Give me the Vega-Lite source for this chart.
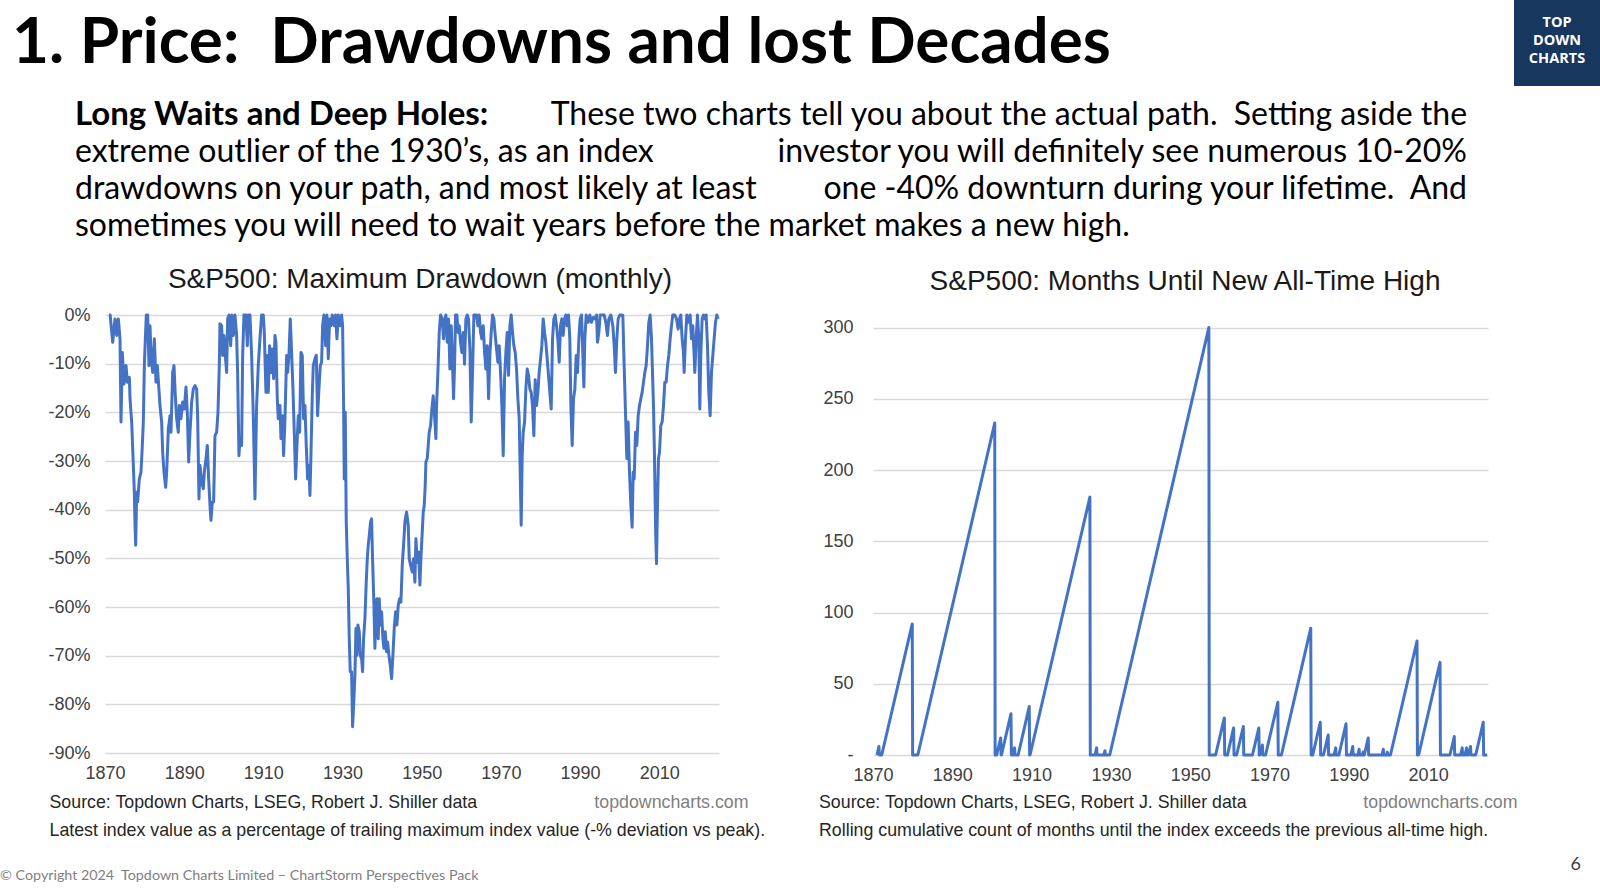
{
 "$schema": "https://vega.github.io/schema/vega-lite/v6.json",
 "padding": 0,
 "background": "white",
 "bounds": "full",
 "spacing": 16,
 "config": {
  "view": {"stroke": null},
  "axis": {"labelFont": "Liberation Sans", "labelFontSize": 18, "labelColor": "#404040", "titleFont": "Liberation Sans", "titleFontSize": 17.8, "titleFontWeight": "normal", "titleColor": "#262626", "domain": false, "ticks": false, "gridColor": "#D9D9D9", "gridWidth": 1.3},
  "title": {"font": "Liberation Sans", "fontSize": 28, "fontWeight": "normal", "color": "#1a1a1a", "anchor": "middle", "baseline": "alphabetic"}
 },
 "datasets": {
  "hdr": [
   {"part": "title", "side": "left", "line": "t", "txt": "1. Price:\u00a0 Drawdowns and lost Decades"},
   {"part": "bold", "side": "left", "ln": 1, "txt": "Long Waits and Deep Holes:"},
   {"part": "reg", "side": "right", "ln": 1, "txt": "These two charts tell you about the actual path.\u00a0 Setting aside the"},
   {"part": "reg", "side": "left", "ln": 2, "txt": "extreme outlier of the 1930’s, as an index"},
   {"part": "reg", "side": "right", "ln": 2, "txt": "investor you will definitely see numerous 10-20%"},
   {"part": "reg", "side": "left", "ln": 3, "txt": "drawdowns on your path, and most likely at least"},
   {"part": "reg", "side": "right", "ln": 3, "txt": "one -40% downturn during your lifetime.\u00a0 And"},
   {"part": "reg", "side": "left", "ln": 4, "txt": "sometimes you will need to wait years before the market makes a new high."}
  ],
  "ftr": [
   {"side": "left", "txt": "© Copyright 2024\u00a0 Topdown Charts Limited – ChartStorm Perspectives Pack"},
   {"side": "right", "txt": "6"}
  ],
  "dd": [
   {"yr":1871.0,"dd":0},{"yr":1871.3,"dd":0},{"yr":1871.94,"dd":-0.056},{"yr":1872.53,"dd":-0.008},{"yr":1872.95,"dd":-0.042},{"yr":1873.37,"dd":-0.008},{"yr":1873.79,"dd":-0.049},{"yr":1874.04,"dd":-0.22},{"yr":1874.38,"dd":-0.077},{"yr":1874.8,"dd":-0.142},{"yr":1875.31,"dd":-0.104},{"yr":1875.64,"dd":-0.138},{"yr":1876.15,"dd":-0.128},{"yr":1876.32,"dd":-0.172},{"yr":1876.74,"dd":-0.22},{"yr":1877.16,"dd":-0.309},{"yr":1877.41,"dd":-0.364},{"yr":1877.58,"dd":-0.432},{"yr":1877.75,"dd":-0.473},{"yr":1878.0,"dd":-0.364},{"yr":1878.25,"dd":-0.384},{"yr":1878.67,"dd":-0.337},{"yr":1879.09,"dd":-0.323},{"yr":1879.35,"dd":-0.282},{"yr":1879.68,"dd":-0.22},{"yr":1879.94,"dd":-0.104},{"yr":1880.19,"dd":-0.049},{"yr":1880.44,"dd":0},{"yr":1880.78,"dd":0},{"yr":1881.11,"dd":-0.104},{"yr":1881.37,"dd":-0.022},{"yr":1881.62,"dd":-0.083},{"yr":1882.04,"dd":-0.118},{"yr":1882.46,"dd":-0.049},{"yr":1882.88,"dd":-0.138},{"yr":1883.22,"dd":-0.104},{"yr":1883.56,"dd":-0.145},{"yr":1883.89,"dd":-0.186},{"yr":1884.31,"dd":-0.22},{"yr":1884.57,"dd":-0.282},{"yr":1884.9,"dd":-0.323},{"yr":1885.32,"dd":-0.354},{"yr":1885.58,"dd":-0.323},{"yr":1886.0,"dd":-0.234},{"yr":1886.42,"dd":-0.207},{"yr":1886.67,"dd":-0.241},{"yr":1887.09,"dd":-0.118},{"yr":1887.43,"dd":-0.104},{"yr":1887.76,"dd":-0.166},{"yr":1888.1,"dd":-0.213},{"yr":1888.52,"dd":-0.241},{"yr":1888.77,"dd":-0.186},{"yr":1889.19,"dd":-0.213},{"yr":1889.62,"dd":-0.179},{"yr":1890.04,"dd":-0.193},{"yr":1890.46,"dd":-0.148},{"yr":1890.79,"dd":-0.2},{"yr":1891.13,"dd":-0.302},{"yr":1891.47,"dd":-0.241},{"yr":1891.89,"dd":-0.179},{"yr":1892.31,"dd":-0.152},{"yr":1892.73,"dd":-0.145},{"yr":1893.15,"dd":-0.152},{"yr":1893.4,"dd":-0.207},{"yr":1893.74,"dd":-0.378},{"yr":1893.99,"dd":-0.309},{"yr":1894.41,"dd":-0.343},{"yr":1894.83,"dd":-0.357},{"yr":1895.09,"dd":-0.323},{"yr":1895.51,"dd":-0.295},{"yr":1895.84,"dd":-0.268},{"yr":1896.18,"dd":-0.337},{"yr":1896.52,"dd":-0.391},{"yr":1896.77,"dd":-0.422},{"yr":1897.11,"dd":-0.384},{"yr":1897.44,"dd":-0.384},{"yr":1897.78,"dd":-0.248},{"yr":1898.2,"dd":-0.241},{"yr":1898.54,"dd":-0.2},{"yr":1898.87,"dd":-0.104},{"yr":1899.04,"dd":-0.018},{"yr":1899.46,"dd":-0.022},{"yr":1899.72,"dd":-0.083},{"yr":1900.05,"dd":-0.042},{"yr":1900.39,"dd":-0.083},{"yr":1900.73,"dd":-0.118},{"yr":1900.98,"dd":-0.008},{"yr":1901.32,"dd":0},{"yr":1901.74,"dd":-0.063},{"yr":1902.07,"dd":0},{"yr":1902.41,"dd":-0.042},{"yr":1902.83,"dd":0},{"yr":1903.25,"dd":-0.042},{"yr":1903.5,"dd":-0.118},{"yr":1903.84,"dd":-0.289},{"yr":1904.09,"dd":-0.254},{"yr":1904.51,"dd":-0.268},{"yr":1904.77,"dd":-0.083},{"yr":1905.1,"dd":0},{"yr":1905.61,"dd":0},{"yr":1905.95,"dd":-0.063},{"yr":1906.2,"dd":0},{"yr":1906.62,"dd":0},{"yr":1907.04,"dd":-0.083},{"yr":1907.46,"dd":-0.207},{"yr":1907.88,"dd":-0.378},
   {"yr":1908.3,"dd":-0.186},{"yr":1908.72,"dd":-0.104},{"yr":1909.14,"dd":-0.049},{"yr":1909.56,"dd":0},{"yr":1909.98,"dd":0},{"yr":1910.24,"dd":-0.036},{"yr":1910.66,"dd":-0.159},{"yr":1910.99,"dd":-0.083},{"yr":1911.25,"dd":-0.159},{"yr":1911.58,"dd":-0.063},{"yr":1911.92,"dd":-0.118},{"yr":1912.26,"dd":-0.07},{"yr":1912.59,"dd":-0.131},{"yr":1912.93,"dd":-0.042},{"yr":1913.18,"dd":-0.056},{"yr":1913.52,"dd":-0.172},{"yr":1913.77,"dd":-0.213},{"yr":1914.19,"dd":-0.186},{"yr":1914.45,"dd":-0.254},{"yr":1914.78,"dd":-0.207},{"yr":1915.12,"dd":-0.289},{"yr":1915.46,"dd":-0.213},{"yr":1915.88,"dd":-0.083},{"yr":1916.13,"dd":-0.118},{"yr":1916.47,"dd":-0.083},{"yr":1916.8,"dd":-0.008},{"yr":1917.14,"dd":-0.077},{"yr":1917.48,"dd":-0.152},{"yr":1917.81,"dd":-0.241},{"yr":1918.15,"dd":-0.337},{"yr":1918.49,"dd":-0.268},{"yr":1918.82,"dd":-0.207},{"yr":1919.16,"dd":-0.241},{"yr":1919.5,"dd":-0.077},{"yr":1919.83,"dd":-0.083},{"yr":1920.17,"dd":-0.213},{"yr":1920.51,"dd":-0.186},{"yr":1920.84,"dd":-0.268},{"yr":1921.18,"dd":-0.337},{"yr":1921.52,"dd":-0.309},{"yr":1921.77,"dd":-0.371},{"yr":1922.02,"dd":-0.289},{"yr":1922.36,"dd":-0.166},{"yr":1922.61,"dd":-0.104},{"yr":1923.03,"dd":-0.09},{"yr":1923.37,"dd":-0.083},{"yr":1923.7,"dd":-0.207},{"yr":1924.04,"dd":-0.152},{"yr":1924.38,"dd":-0.104},{"yr":1924.72,"dd":-0.097},{"yr":1924.97,"dd":-0.022},{"yr":1925.3,"dd":0},{"yr":1925.73,"dd":-0.063},{"yr":1926.06,"dd":0},{"yr":1926.4,"dd":-0.09},{"yr":1926.74,"dd":-0.008},{"yr":1927.07,"dd":-0.022},{"yr":1927.41,"dd":0},{"yr":1927.91,"dd":-0.022},{"yr":1928.25,"dd":0},{"yr":1928.59,"dd":-0.049},{"yr":1928.92,"dd":0},{"yr":1929.43,"dd":-0.022},{"yr":1929.77,"dd":0},{"yr":1930.02,"dd":-0.022},{"yr":1930.27,"dd":-0.186},{"yr":1930.44,"dd":-0.337},{"yr":1930.69,"dd":-0.2},{"yr":1930.94,"dd":-0.425},{"yr":1931.2,"dd":-0.501},{"yr":1931.45,"dd":-0.562},{"yr":1931.7,"dd":-0.665},{"yr":1931.95,"dd":-0.733},{"yr":1932.29,"dd":-0.733},{"yr":1932.54,"dd":-0.846},{"yr":1932.8,"dd":-0.802},{"yr":1933.13,"dd":-0.74},{"yr":1933.39,"dd":-0.644},{"yr":1933.64,"dd":-0.699},{"yr":1933.89,"dd":-0.637},{"yr":1934.23,"dd":-0.651},{"yr":1934.48,"dd":-0.699},{"yr":1934.82,"dd":-0.706},{"yr":1935.07,"dd":-0.733},{"yr":1935.32,"dd":-0.665},{"yr":1935.66,"dd":-0.624},{"yr":1935.99,"dd":-0.549},{"yr":1936.25,"dd":-0.501},{"yr":1936.5,"dd":-0.473},{"yr":1936.84,"dd":-0.446},{"yr":1937.09,"dd":-0.425},{"yr":1937.34,"dd":-0.419},{"yr":1937.59,"dd":-0.501},{"yr":1937.93,"dd":-0.596},{"yr":1938.18,"dd":-0.685},{"yr":1938.44,"dd":-0.596},{"yr":1938.69,"dd":-0.583},{"yr":1939.02,"dd":-0.665},{"yr":1939.28,"dd":-0.583},{"yr":1939.53,"dd":-0.637},{"yr":1939.87,"dd":-0.61},{"yr":1940.2,"dd":-0.665},{"yr":1940.46,"dd":-0.685},{"yr":1940.79,"dd":-0.651},{"yr":1941.13,"dd":-0.692},{"yr":1941.38,"dd":-0.672},{"yr":1941.72,"dd":-0.699},{"yr":1942.06,"dd":-0.72},{"yr":1942.39,"dd":-0.747},{"yr":1942.73,"dd":-0.699},{"yr":1943.06,"dd":-0.644},{"yr":1943.4,"dd":-0.61},{"yr":1943.74,"dd":-0.637},{"yr":1944.08,"dd":-0.596},{"yr":1944.41,"dd":-0.583},{"yr":1944.75,"dd":-0.59},{"yr":1945.09,"dd":-0.514},{"yr":1945.42,"dd":-0.473},{"yr":1945.76,"dd":-0.425},{"yr":1946.18,"dd":-0.405},{"yr":1946.6,"dd":-0.432},{"yr":1946.85,"dd":-0.501},{"yr":1947.19,"dd":-0.514},{"yr":1947.61,"dd":-0.528},{"yr":1947.95,"dd":-0.501},
   {"yr":1948.28,"dd":-0.549},{"yr":1948.54,"dd":-0.46},{"yr":1948.87,"dd":-0.508},{"yr":1949.21,"dd":-0.487},{"yr":1949.55,"dd":-0.555},{"yr":1949.8,"dd":-0.501},{"yr":1950.05,"dd":-0.46},{"yr":1950.39,"dd":-0.405},{"yr":1950.64,"dd":-0.391},{"yr":1950.89,"dd":-0.35},{"yr":1951.06,"dd":-0.302},{"yr":1951.4,"dd":-0.295},{"yr":1951.65,"dd":-0.268},{"yr":1951.9,"dd":-0.241},{"yr":1952.24,"dd":-0.227},{"yr":1952.58,"dd":-0.193},{"yr":1952.91,"dd":-0.166},{"yr":1953.25,"dd":-0.207},{"yr":1953.59,"dd":-0.254},{"yr":1953.75,"dd":-0.186},{"yr":1954.09,"dd":-0.118},{"yr":1954.43,"dd":-0.036},{"yr":1954.76,"dd":0},{"yr":1955.18,"dd":-0.008},{"yr":1955.52,"dd":-0.049},{"yr":1955.86,"dd":-0.008},{"yr":1956.11,"dd":0},{"yr":1956.45,"dd":-0.056},{"yr":1956.78,"dd":-0.008},{"yr":1957.12,"dd":-0.111},{"yr":1957.46,"dd":-0.022},{"yr":1957.71,"dd":-0.083},{"yr":1958.05,"dd":-0.172},{"yr":1958.3,"dd":-0.104},{"yr":1958.55,"dd":0},{"yr":1958.89,"dd":0},{"yr":1959.23,"dd":-0.036},{"yr":1959.48,"dd":-0.022},{"yr":1959.81,"dd":-0.056},{"yr":1960.15,"dd":-0.077},{"yr":1960.49,"dd":-0.036},{"yr":1960.82,"dd":-0.101},{"yr":1961.16,"dd":-0.008},{"yr":1961.5,"dd":0},{"yr":1961.83,"dd":-0.008},{"yr":1962.17,"dd":-0.07},{"yr":1962.51,"dd":-0.22},{"yr":1962.84,"dd":-0.118},{"yr":1963.18,"dd":0},{"yr":1963.52,"dd":0},{"yr":1963.85,"dd":0},{"yr":1964.19,"dd":-0.022},{"yr":1964.53,"dd":0},{"yr":1964.87,"dd":-0.036},{"yr":1965.2,"dd":-0.049},{"yr":1965.54,"dd":-0.022},{"yr":1965.88,"dd":-0.077},{"yr":1966.21,"dd":-0.111},{"yr":1966.55,"dd":-0.063},{"yr":1966.89,"dd":-0.172},{"yr":1967.22,"dd":-0.083},{"yr":1967.56,"dd":-0.036},{"yr":1967.9,"dd":0},{"yr":1968.23,"dd":-0.008},{"yr":1968.57,"dd":-0.042},{"yr":1968.91,"dd":-0.07},{"yr":1969.24,"dd":-0.097},{"yr":1969.58,"dd":-0.063},{"yr":1969.92,"dd":-0.118},{"yr":1970.25,"dd":-0.186},{"yr":1970.59,"dd":-0.289},{"yr":1970.93,"dd":-0.131},{"yr":1971.26,"dd":-0.077},{"yr":1971.6,"dd":-0.036},{"yr":1971.94,"dd":-0.124},{"yr":1972.27,"dd":-0.022},{"yr":1972.61,"dd":0},{"yr":1972.95,"dd":-0.036},{"yr":1973.28,"dd":-0.063},{"yr":1973.62,"dd":-0.077},{"yr":1973.96,"dd":-0.111},{"yr":1974.29,"dd":-0.172},{"yr":1974.63,"dd":-0.213},{"yr":1974.88,"dd":-0.323},{"yr":1975.13,"dd":-0.432},{"yr":1975.39,"dd":-0.289},{"yr":1975.64,"dd":-0.241},{"yr":1975.98,"dd":-0.22},{"yr":1976.31,"dd":-0.152},{"yr":1976.65,"dd":-0.111},{"yr":1976.99,"dd":-0.124},{"yr":1977.32,"dd":-0.152},{"yr":1977.66,"dd":-0.159},{"yr":1977.99,"dd":-0.186},{"yr":1978.33,"dd":-0.248},{"yr":1978.67,"dd":-0.133},{"yr":1979.01,"dd":-0.186},{"yr":1979.34,"dd":-0.159},{"yr":1979.68,"dd":-0.118},{"yr":1980.02,"dd":-0.09},{"yr":1980.35,"dd":-0.063},{"yr":1980.69,"dd":-0.008},{"yr":1981.03,"dd":-0.036},{"yr":1981.36,"dd":-0.056},{"yr":1981.7,"dd":-0.09},{"yr":1982.04,"dd":-0.125},{"yr":1982.37,"dd":-0.159},{"yr":1982.71,"dd":-0.193},{"yr":1983.05,"dd":-0.049},{"yr":1983.38,"dd":-0.008},{"yr":1983.72,"dd":0},{"yr":1984.06,"dd":-0.022},{"yr":1984.39,"dd":-0.049},{"yr":1984.73,"dd":-0.097},{"yr":1985.07,"dd":-0.022},{"yr":1985.4,"dd":-0.008},{"yr":1985.74,"dd":-0.042},{"yr":1986.08,"dd":-0.008},{"yr":1986.41,"dd":0},{"yr":1986.75,"dd":-0.022},{"yr":1987.09,"dd":0},
   {"yr":1987.42,"dd":-0.049},{"yr":1987.68,"dd":-0.186},{"yr":1988.01,"dd":-0.268},{"yr":1988.35,"dd":-0.172},{"yr":1988.69,"dd":-0.152},{"yr":1989.02,"dd":-0.083},{"yr":1989.36,"dd":-0.118},{"yr":1989.7,"dd":-0.049},{"yr":1990.03,"dd":-0.008},{"yr":1990.37,"dd":0},{"yr":1990.71,"dd":-0.083},{"yr":1990.96,"dd":-0.148},{"yr":1991.21,"dd":-0.049},{"yr":1991.55,"dd":0},{"yr":1992.05,"dd":-0.015},{"yr":1992.47,"dd":0},{"yr":1992.89,"dd":-0.015},{"yr":1993.31,"dd":-0.005},{"yr":1993.74,"dd":-0.008},{"yr":1994.16,"dd":0},{"yr":1994.41,"dd":-0.056},{"yr":1994.75,"dd":-0.036},{"yr":1995.08,"dd":0},{"yr":1995.59,"dd":0},{"yr":1996.09,"dd":0},{"yr":1996.51,"dd":-0.015},{"yr":1996.93,"dd":-0.042},{"yr":1997.27,"dd":-0.008},{"yr":1997.78,"dd":0},{"yr":1998.28,"dd":-0.022},{"yr":1998.62,"dd":-0.063},{"yr":1998.95,"dd":-0.118},{"yr":1999.29,"dd":-0.049},{"yr":1999.63,"dd":-0.008},{"yr":2000.05,"dd":0},{"yr":2000.47,"dd":0},{"yr":2000.81,"dd":-0.001},{"yr":2001.14,"dd":-0.104},{"yr":2001.48,"dd":-0.2},{"yr":2001.82,"dd":-0.295},{"yr":2002.15,"dd":-0.22},{"yr":2002.49,"dd":-0.323},{"yr":2002.83,"dd":-0.391},{"yr":2003.16,"dd":-0.436},{"yr":2003.42,"dd":-0.323},{"yr":2003.67,"dd":-0.337},{"yr":2004.01,"dd":-0.241},{"yr":2004.34,"dd":-0.268},{"yr":2004.68,"dd":-0.207},{"yr":2005.02,"dd":-0.186},{"yr":2005.35,"dd":-0.172},{"yr":2005.69,"dd":-0.159},{"yr":2006.03,"dd":-0.138},{"yr":2006.36,"dd":-0.118},{"yr":2006.7,"dd":-0.104},{"yr":2007.04,"dd":-0.063},{"yr":2007.37,"dd":-0.015},{"yr":2007.71,"dd":0},{"yr":2008.05,"dd":-0.049},{"yr":2008.3,"dd":-0.118},{"yr":2008.55,"dd":-0.186},{"yr":2008.8,"dd":-0.289},{"yr":2009.06,"dd":-0.432},{"yr":2009.31,"dd":-0.511},{"yr":2009.56,"dd":-0.391},{"yr":2009.81,"dd":-0.295},{"yr":2010.07,"dd":-0.282},{"yr":2010.4,"dd":-0.227},{"yr":2010.74,"dd":-0.22},{"yr":2011.08,"dd":-0.186},{"yr":2011.41,"dd":-0.138},{"yr":2011.75,"dd":-0.138},{"yr":2012.09,"dd":-0.104},{"yr":2012.42,"dd":-0.083},{"yr":2012.76,"dd":-0.049},{"yr":2013.1,"dd":-0.022},{"yr":2013.43,"dd":0},{"yr":2013.94,"dd":0},{"yr":2014.36,"dd":-0.008},{"yr":2014.78,"dd":-0.029},{"yr":2015.12,"dd":-0.008},{"yr":2015.45,"dd":0},{"yr":2015.79,"dd":-0.049},{"yr":2016.13,"dd":-0.077},{"yr":2016.29,"dd":-0.118},{"yr":2016.63,"dd":-0.049},{"yr":2016.97,"dd":0},{"yr":2017.47,"dd":-0.015},{"yr":2017.81,"dd":0},{"yr":2018.15,"dd":-0.049},{"yr":2018.48,"dd":-0.022},{"yr":2018.82,"dd":-0.083},{"yr":2018.99,"dd":-0.118},{"yr":2019.33,"dd":-0.049},{"yr":2019.66,"dd":0},{"yr":2020.0,"dd":-0.049},{"yr":2020.25,"dd":-0.193},{"yr":2020.5,"dd":-0.083},{"yr":2020.84,"dd":-0.008},{"yr":2021.18,"dd":0},{"yr":2021.51,"dd":-0.008},{"yr":2021.85,"dd":0},{"yr":2022.19,"dd":-0.063},{"yr":2022.52,"dd":-0.159},{"yr":2022.86,"dd":-0.207},{"yr":2023.2,"dd":-0.118},{"yr":2023.54,"dd":-0.083},{"yr":2023.87,"dd":-0.049},{"yr":2024.21,"dd":-0.015},{"yr":2024.55,"dd":0},{"yr":2024.88,"dd":-0.008}
  ],
  "ath": [
   {"yr":1871.0,"m":0},{"yr":1871.5,"m":6},{"yr":1871.6,"m":0},{"yr":1872.2,"m":0},{"yr":1879.9,"m":92},{"yr":1880.0,"m":0},{"yr":1881.3,"m":0},{"yr":1900.7,"m":233},{"yr":1900.8,"m":0},{"yr":1901.2,"m":0},{"yr":1902.2,"m":12},{"yr":1902.3,"m":0},{"yr":1902.4,"m":0},{"yr":1904.8,"m":29},{"yr":1904.9,"m":0},{"yr":1905.3,"m":0},{"yr":1905.7,"m":5},{"yr":1905.8,"m":0},{"yr":1906.6,"m":0},{"yr":1909.4,"m":34},{"yr":1909.5,"m":0},{"yr":1909.6,"m":0},{"yr":1924.7,"m":181},{"yr":1924.8,"m":0},{"yr":1926.0,"m":0},{"yr":1926.4,"m":5},{"yr":1926.5,"m":0},{"yr":1928.2,"m":0},{"yr":1928.5,"m":3},{"yr":1928.6,"m":0},{"yr":1929.7,"m":0},{"yr":1954.7,"m":300},{"yr":1954.8,"m":0},{"yr":1956.4,"m":0},{"yr":1958.6,"m":26},{"yr":1958.7,"m":0},{"yr":1959.4,"m":0},{"yr":1960.95,"m":19},{"yr":1961.05,"m":0},{"yr":1961.7,"m":0},{"yr":1963.4,"m":20},{"yr":1963.5,"m":0},{"yr":1965.7,"m":0},{"yr":1967.3,"m":19},{"yr":1967.4,"m":0},{"yr":1967.6,"m":0},{"yr":1968.2,"m":7},{"yr":1968.3,"m":0},{"yr":1969.0,"m":0},{"yr":1972.1,"m":37},{"yr":1972.2,"m":0},{"yr":1973.0,"m":0},{"yr":1980.4,"m":89},{"yr":1980.5,"m":0},{"yr":1980.9,"m":0},{"yr":1982.8,"m":23},{"yr":1982.9,"m":0},{"yr":1983.6,"m":0},{"yr":1984.8,"m":14},{"yr":1984.9,"m":0},{"yr":1986.3,"m":0},{"yr":1986.7,"m":5},{"yr":1986.8,"m":0},{"yr":1987.5,"m":0},{"yr":1989.3,"m":22},{"yr":1989.4,"m":0},{"yr":1990.5,"m":0},{"yr":1991.0,"m":6},{"yr":1991.1,"m":0},{"yr":1992.3,"m":0},{"yr":1992.6,"m":4},{"yr":1992.7,"m":0},{"yr":1993.4,"m":0},{"yr":1993.6,"m":2},{"yr":1993.7,"m":0},{"yr":1993.9,"m":0},{"yr":1994.9,"m":12},{"yr":1995.0,"m":0},{"yr":1998.4,"m":0},{"yr":1998.7,"m":4},{"yr":1998.8,"m":0},{"yr":1999.5,"m":0},{"yr":1999.7,"m":2},{"yr":1999.8,"m":0},{"yr":2000.5,"m":0},{"yr":2007.2,"m":80},{"yr":2007.3,"m":0},{"yr":2007.6,"m":0},{"yr":2013.0,"m":65},{"yr":2013.1,"m":0},{"yr":2015.5,"m":0},{"yr":2016.6,"m":13},{"yr":2016.7,"m":0},{"yr":2018.2,"m":0},{"yr":2018.6,"m":5},{"yr":2018.7,"m":0},{"yr":2019.3,"m":0},{"yr":2019.7,"m":5},{"yr":2019.8,"m":0},{"yr":2020.2,"m":0},{"yr":2020.7,"m":6},{"yr":2020.8,"m":0},{"yr":2022.0,"m":0},{"yr":2023.9,"m":23},{"yr":2024.0,"m":0},{"yr":2024.9,"m":0}
  ]
 },
 "vconcat": [
  {
   "hconcat": [
    {
     "width": 1514,
     "height": 250,
     "data": {"name": "hdr"},
     "layer": [
      {
       "transform": [{"filter": "datum.part == 'title'"}],
       "mark": {"type": "text", "font": "Lato", "fontSize": 63.8, "fontWeight": "bold", "align": "left", "baseline": "alphabetic", "color": "#000000"},
       "encoding": {
        "x": {"field": "side", "type": "nominal", "scale": {"type": "point", "domain": ["left"], "padding": 0, "align": 0.00793}, "axis": null},
        "y": {"field": "line", "type": "nominal", "scale": {"type": "point", "domain": ["t"], "padding": 0, "align": 0.25}, "axis": null},
        "text": {"field": "txt"}
       }
      },
      {
       "transform": [{"filter": "datum.part == 'bold'"}],
       "mark": {"type": "text", "font": "Lato", "fontSize": 33, "fontWeight": "bold", "align": "left", "baseline": "alphabetic", "color": "#000000"},
       "encoding": {
        "x": {"field": "side", "type": "nominal", "scale": {"type": "point", "domain": ["left", "right"], "padding": 0.0438, "align": 0.6148}, "axis": null},
        "y": {"field": "ln", "type": "quantitative", "scale": {"domain": [-2.3784, 4.3784], "reverse": true, "nice": false, "zero": false}, "axis": null},
        "text": {"field": "txt"}
       }
      },
      {
       "transform": [{"filter": "datum.part == 'reg' && datum.side == 'left'"}],
       "mark": {"type": "text", "font": "Lato", "fontSize": 32, "align": "left", "baseline": "alphabetic", "color": "#000000"},
       "encoding": {
        "x": {"field": "side", "type": "nominal", "scale": {"type": "point", "domain": ["left", "right"], "padding": 0.0438, "align": 0.6148}, "axis": null},
        "y": {"field": "ln", "type": "quantitative", "scale": {"domain": [-2.3784, 4.3784], "reverse": true, "nice": false, "zero": false}, "axis": null},
        "text": {"field": "txt"}
       }
      },
      {
       "transform": [{"filter": "datum.part == 'reg' && datum.side == 'right'"}],
       "mark": {"type": "text", "font": "Lato", "fontSize": 32, "align": "right", "baseline": "alphabetic", "color": "#000000"},
       "encoding": {
        "x": {"field": "side", "type": "nominal", "scale": {"type": "point", "domain": ["left", "right"], "padding": 0.0438, "align": 0.6148}, "axis": null},
        "y": {"field": "ln", "type": "quantitative", "scale": {"domain": [-2.3784, 4.3784], "reverse": true, "nice": false, "zero": false}, "axis": null},
        "text": {"field": "txt"}
       }
      }
     ],
     "resolve": {"scale": {"x": "independent", "y": "independent"}}
    },
    {
     "width": 86,
     "height": 86,
     "view": {"fill": "#17375E", "stroke": null},
     "data": {"values": [{"t": "TOP\nDOWN\nCHARTS"}]},
     "mark": {"type": "text", "lineBreak": "\n", "font": "Open Sans", "fontWeight": "bold", "fontSize": 14.5, "letterSpacing": 0.8, "lineHeight": 17.9, "color": "#FFFFFF", "align": "center", "baseline": "middle", "dy": -20},
     "encoding": {"text": {"field": "t"}}
    }
   ],
   "spacing": 0
  },
  {
   "hconcat": [
    {
     "width": 1,
     "height": 1,
     "data": {"values": [{}]},
     "mark": {"type": "text", "text": ""}
    },
    {
     "hconcat": [
      {
       "width": 614,
       "height": 438,
       "title": {"text": "S&P500: Maximum Drawdown (monthly)", "dx": 8, "offset": 12},
       "data": {"name": "dd"},
       "mark": {"type": "line", "color": "#4472C4", "strokeWidth": 3, "strokeJoin": "round"},
       "encoding": {
        "x": {"field": "yr", "type": "quantitative", "scale": {"domain": [1870, 2025.1], "nice": false, "zero": false},
         "axis": {"values": [1870, 1890, 1910, 1930, 1950, 1970, 1990, 2010], "format": "d", "labelFlush": false, "grid": false, "labelPadding": 11,
          "title": ["Source: Topdown Charts, LSEG, Robert J. Shiller data", "Latest index value as a percentage of trailing maximum index value (-% deviation vs peak)."],
          "titleAlign": "left", "titleAnchor": "start", "titleX": -56, "titleY": 54.5, "titleBaseline": "alphabetic", "titleLineHeight": 27.5}},
        "y": {"field": "dd", "type": "quantitative", "scale": {"domain": [-0.9, 0], "nice": false, "zero": false},
         "axis": {"values": [-0.9, -0.8, -0.7, -0.6, -0.5, -0.4, -0.3, -0.2, -0.1, 0], "labelExpr": "round(datum.value*100) + '%'", "labelPadding": 15, "minExtent": 104, "grid": true,
          "title": "topdowncharts.com", "titleAngle": 0, "titleAlign": "right", "titleX": 643, "titleY": 492.5, "titleBaseline": "alphabetic", "titleColor": "#808080"}}
       }
      },
      {
       "width": 615,
       "height": 440,
       "title": {"text": "S&P500: Months Until New All-Time High", "dx": 4.5, "offset": 19},
       "data": {"name": "ath"},
       "mark": {"type": "line", "color": "#4472C4", "strokeWidth": 3, "strokeJoin": "round"},
       "encoding": {
        "x": {"field": "yr", "type": "quantitative", "scale": {"domain": [1870, 2025.1], "nice": false, "zero": false},
         "axis": {"values": [1870, 1890, 1910, 1930, 1950, 1970, 1990, 2010], "format": "d", "labelFlush": false, "grid": false, "labelPadding": 11,
          "title": ["Source: Topdown Charts, LSEG, Robert J. Shiller data", "Rolling cumulative count of months until the index exceeds the previous all-time high."],
          "titleAlign": "left", "titleAnchor": "start", "titleX": -54.5, "titleY": 52.5, "titleBaseline": "alphabetic", "titleLineHeight": 27.5}},
        "y": {"field": "m", "type": "quantitative", "scale": {"domain": [0, 308.8], "nice": false, "zero": false},
         "axis": {"values": [0, 50, 100, 150, 200, 250, 300], "labelExpr": "datum.value == 0 ? '-' : datum.label", "labelPadding": 20, "grid": true,
          "title": "topdowncharts.com", "titleAngle": 0, "titleAlign": "right", "titleX": 644, "titleY": 492.5, "titleBaseline": "alphabetic", "titleColor": "#808080"}}
       }
      }
     ],
     "spacing": 53,
     "bounds": "full"
    }
   ],
   "spacing": 0,
   "bounds": "full"
  },
  {
   "width": 1581,
   "height": 40,
   "data": {"name": "ftr"},
   "layer": [
    {
     "transform": [{"filter": "datum.side == 'left'"}],
     "mark": {"type": "text", "font": "Lato", "fontSize": 14.3, "color": "#7F7F7F", "align": "left", "baseline": "middle"},
     "encoding": {
      "x": {"field": "side", "type": "nominal", "scale": {"type": "point", "domain": ["left", "right"], "padding": 0}, "axis": null},
      "text": {"field": "txt"}
     }
    },
    {
     "transform": [{"filter": "datum.side == 'right'"}],
     "mark": {"type": "text", "font": "Lato", "fontSize": 18, "color": "#404040", "align": "right", "baseline": "middle", "dy": -11.5},
     "encoding": {
      "x": {"field": "side", "type": "nominal", "scale": {"type": "point", "domain": ["left", "right"], "padding": 0}, "axis": null},
      "text": {"field": "txt"}
     }
    }
   ]
  }
 ]
}
